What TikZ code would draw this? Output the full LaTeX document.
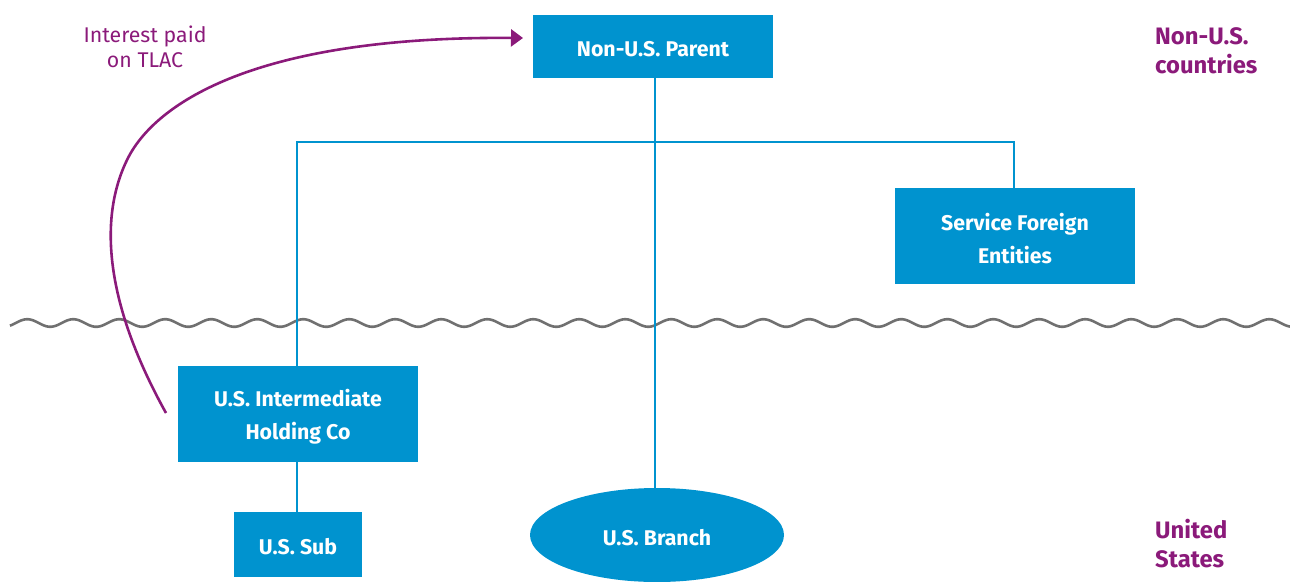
\documentclass[tikz,border=0pt]{standalone}
\usepackage{fontspec}
\setmainfont{Fira Sans}
\usetikzlibrary{shapes.geometric,arrows.meta}
\definecolor{entblue}{HTML}{0093CF}
\definecolor{tlacpurple}{HTML}{8B1A7A}
\definecolor{wavegray}{HTML}{707070}
\begin{document}
\begin{tikzpicture}[x=1pt,y=-1pt,
  entity/.style={fill=entblue, inner sep=0pt, anchor=center},
  entitytext/.style={text=white, font=\fontsize{21.3}{33}\selectfont\bfseries,
    align=center, inner sep=0pt, anchor=center, yshift=-2.5pt},
  link/.style={draw=entblue, line width=2.4pt},
  region/.style={text=tlacpurple, font=\fontsize{23.8}{29}\selectfont\bfseries, align=left, anchor=north west, inner sep=0pt}]
\useasboundingbox (0,0) rectangle (1290,581);
% border wave between the two jurisdictions
\draw[wavegray, line width=2.6pt] plot[domain=10:1290, samples=500] (\x, {323-3.8*sin((\x-15.75)*7.826)});
% entities
\node[entity, minimum width=240pt, minimum height=63pt] (parent) at (653,46.5) {};
\node[entity, minimum width=240pt, minimum height=96pt] (sfe) at (1015,236) {};
\node[entity, minimum width=240pt, minimum height=96pt] (ihc) at (298,414) {};
\node[entity, minimum width=128pt, minimum height=65pt] (sub) at (298,544.5) {};
\node[entity, ellipse, minimum width=254pt, minimum height=94pt] (branch) at (657,535) {};
\node[entitytext] (parenttext) at (parent.center) {Non-U.S. Parent};
\node[entitytext] (sfetext) at (sfe.center) {Service Foreign\\Entities};
\node[entitytext] (ihctext) at (ihc.center) {U.S. Intermediate\\Holding Co};
\node[entitytext] (subtext) at (sub.center) {U.S. Sub};
\node[entitytext] (branchtext) at (branch.center) {U.S. Branch};
% ownership lines
\coordinate (bus) at (655,142);
\coordinate (left) at (297,142);
\coordinate (right) at (1014,142);
\draw[link] (parent.south -| bus) -- (branch.north -| bus);
\draw[link] (ihc.north -| left) -- (left) -- (right) -- (sfe.north -| right);
\draw[link] (ihc.south -| left) -- (sub.north -| left);
% interest flow
\coordinate (flowstart) at (166,413);
\coordinate (flowbend) at (127,160);
\coordinate (flowtip) at (523,38);
\draw[tlacpurple, line width=2.6pt, -{Triangle[length=12pt,width=17pt]}]
  (flowstart) .. controls (95,285) and (105,205) .. (flowbend)
  .. controls (153,106) and (250,36) .. (flowtip);
\node[text=tlacpurple, font=\fontsize{21.3}{25}\selectfont, align=center, inner sep=0pt] (tlac) at (145,47) {Interest paid\\on TLAC};
% jurisdictions
\node[region] (nonus) at (1155,27) {Non-U.S.\\countries};
\node[region] (us) at (1155,519) {United\\States};
\end{tikzpicture}
\end{document}
